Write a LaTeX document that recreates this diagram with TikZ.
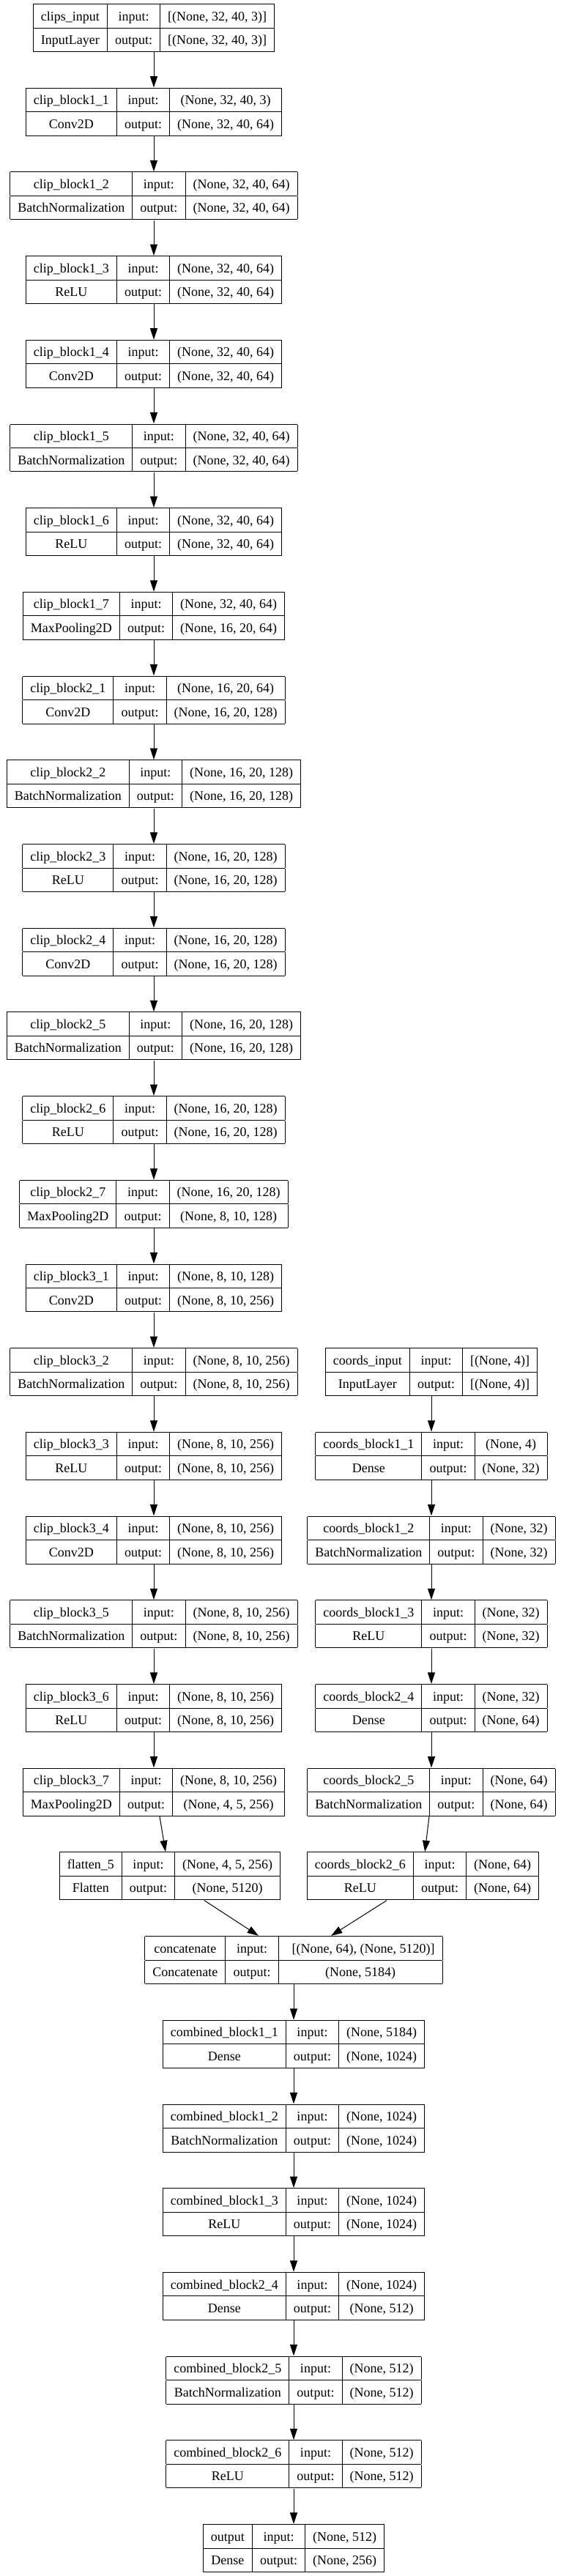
\documentclass[tikz,border=0pt]{standalone}
\usepackage{fontspec}
\setmainfont{Liberation Serif}
\usepackage{tikz}
\usetikzlibrary{arrows.meta}
\renewcommand{\arraystretch}{1.457}
\setlength{\arrayrulewidth}{0.75pt}
\setlength{\tabcolsep}{7.9pt}
\newcommand{\layerbox}[4]{%
  \begin{tabular}{|c|c|c|}\hline
    #1 & input: & #3\\\hline
    #2 & output: & #4\\\hline
  \end{tabular}}

\begin{document}
\begin{tikzpicture}[
    x=0.75pt, y=-86.025pt,
    layer/.style={inner sep=0pt, font=\fontsize{13.5}{16.2}\selectfont},
    arr/.style={-{Triangle[length=11.5pt,width=7.5pt]}, line width=0.75pt}
]
    \useasboundingbox (0,-0.3313) rectangle (766,30.3313);

    % Clip branch
    \node[layer] (cin)  at (210,0)  {\layerbox{clips\_input}{InputLayer}{[(None, 32, 40, 3)]}{[(None, 32, 40, 3)]}};
    \node[layer] (cb11) at (210,1)  {\layerbox{clip\_block1\_1}{Conv2D}{(None, 32, 40, 3)}{(None, 32, 40, 64)}};
    \node[layer] (cb12) at (210,2)  {\layerbox{clip\_block1\_2}{BatchNormalization}{(None, 32, 40, 64)}{(None, 32, 40, 64)}};
    \node[layer] (cb13) at (210,3)  {\layerbox{clip\_block1\_3}{ReLU}{(None, 32, 40, 64)}{(None, 32, 40, 64)}};
    \node[layer] (cb14) at (210,4)  {\layerbox{clip\_block1\_4}{Conv2D}{(None, 32, 40, 64)}{(None, 32, 40, 64)}};
    \node[layer] (cb15) at (210,5)  {\layerbox{clip\_block1\_5}{BatchNormalization}{(None, 32, 40, 64)}{(None, 32, 40, 64)}};
    \node[layer] (cb16) at (210,6)  {\layerbox{clip\_block1\_6}{ReLU}{(None, 32, 40, 64)}{(None, 32, 40, 64)}};
    \node[layer] (cb17) at (210,7)  {\layerbox{clip\_block1\_7}{MaxPooling2D}{(None, 32, 40, 64)}{(None, 16, 20, 64)}};
    \node[layer] (cb21) at (210,8)  {\layerbox{clip\_block2\_1}{Conv2D}{(None, 16, 20, 64)}{(None, 16, 20, 128)}};
    \node[layer] (cb22) at (210,9)  {\layerbox{clip\_block2\_2}{BatchNormalization}{(None, 16, 20, 128)}{(None, 16, 20, 128)}};
    \node[layer] (cb23) at (210,10) {\layerbox{clip\_block2\_3}{ReLU}{(None, 16, 20, 128)}{(None, 16, 20, 128)}};
    \node[layer] (cb24) at (210,11) {\layerbox{clip\_block2\_4}{Conv2D}{(None, 16, 20, 128)}{(None, 16, 20, 128)}};
    \node[layer] (cb25) at (210,12) {\layerbox{clip\_block2\_5}{BatchNormalization}{(None, 16, 20, 128)}{(None, 16, 20, 128)}};
    \node[layer] (cb26) at (210,13) {\layerbox{clip\_block2\_6}{ReLU}{(None, 16, 20, 128)}{(None, 16, 20, 128)}};
    \node[layer] (cb27) at (210,14) {\layerbox{clip\_block2\_7}{MaxPooling2D}{(None, 16, 20, 128)}{(None, 8, 10, 128)}};
    \node[layer] (cb31) at (210,15) {\layerbox{clip\_block3\_1}{Conv2D}{(None, 8, 10, 128)}{(None, 8, 10, 256)}};
    \node[layer] (cb32) at (210,16) {\layerbox{clip\_block3\_2}{BatchNormalization}{(None, 8, 10, 256)}{(None, 8, 10, 256)}};
    \node[layer] (cb33) at (210,17) {\layerbox{clip\_block3\_3}{ReLU}{(None, 8, 10, 256)}{(None, 8, 10, 256)}};
    \node[layer] (cb34) at (210,18) {\layerbox{clip\_block3\_4}{Conv2D}{(None, 8, 10, 256)}{(None, 8, 10, 256)}};
    \node[layer] (cb35) at (210,19) {\layerbox{clip\_block3\_5}{BatchNormalization}{(None, 8, 10, 256)}{(None, 8, 10, 256)}};
    \node[layer] (cb36) at (210,20) {\layerbox{clip\_block3\_6}{ReLU}{(None, 8, 10, 256)}{(None, 8, 10, 256)}};
    \node[layer] (cb37) at (210,21) {\layerbox{clip\_block3\_7}{MaxPooling2D}{(None, 8, 10, 256)}{(None, 4, 5, 256)}};
    \node[layer] (flat) at (232,22) {\layerbox{flatten\_5}{Flatten}{(None, 4, 5, 256)}{(None, 5120)}};

    % Coords branch
    \node[layer] (kin)  at (589,16) {\layerbox{coords\_input}{InputLayer}{[(None, 4)]}{[(None, 4)]}};
    \node[layer] (kb11) at (589,17) {\layerbox{coords\_block1\_1}{Dense}{(None, 4)}{(None, 32)}};
    \node[layer] (kb12) at (589,18) {\layerbox{coords\_block1\_2}{BatchNormalization}{(None, 32)}{(None, 32)}};
    \node[layer] (kb13) at (589,19) {\layerbox{coords\_block1\_3}{ReLU}{(None, 32)}{(None, 32)}};
    \node[layer] (kb24) at (589,20) {\layerbox{coords\_block2\_4}{Dense}{(None, 32)}{(None, 64)}};
    \node[layer] (kb25) at (589,21) {\layerbox{coords\_block2\_5}{BatchNormalization}{(None, 64)}{(None, 64)}};
    \node[layer] (kb26) at (577.5,22) {\layerbox{coords\_block2\_6}{ReLU}{(None, 64)}{(None, 64)}};

    % Combined part
    \node[layer] (cat)  at (401,23) {\layerbox{concatenate}{Concatenate}{\hspace{6pt}[(None, 64), (None, 5120)]\hspace{6pt}}{(None, 5184)}};
    \node[layer] (mb11) at (401,24) {\layerbox{combined\_block1\_1}{Dense}{(None, 5184)}{(None, 1024)}};
    \node[layer] (mb12) at (401,25) {\layerbox{combined\_block1\_2}{BatchNormalization}{(None, 1024)}{(None, 1024)}};
    \node[layer] (mb13) at (401,26) {\layerbox{combined\_block1\_3}{ReLU}{(None, 1024)}{(None, 1024)}};
    \node[layer] (mb24) at (401,27) {\layerbox{combined\_block2\_4}{Dense}{(None, 1024)}{(None, 512)}};
    \node[layer] (mb25) at (401,28) {\layerbox{combined\_block2\_5}{BatchNormalization}{(None, 512)}{(None, 512)}};
    \node[layer] (mb26) at (401,29) {\layerbox{combined\_block2\_6}{ReLU}{(None, 512)}{(None, 512)}};
    \node[layer] (out)  at (401,30) {\layerbox{output}{Dense}{(None, 512)}{(None, 256)}};

    % Edges
    \foreach \a/\b in {cin/cb11, cb11/cb12, cb12/cb13, cb13/cb14, cb14/cb15, cb15/cb16, cb16/cb17,
                       cb17/cb21, cb21/cb22, cb22/cb23, cb23/cb24, cb24/cb25, cb25/cb26, cb26/cb27,
                       cb27/cb31, cb31/cb32, cb32/cb33, cb33/cb34, cb34/cb35, cb35/cb36, cb36/cb37,
                       kin/kb11, kb11/kb12, kb12/kb13, kb13/kb24, kb24/kb25,
                       cat/mb11, mb11/mb12, mb12/mb13, mb13/mb24, mb24/mb25, mb25/mb26, mb26/out}
        \draw[arr] (\a) -- (\b);
    \draw[arr] ([xshift=6pt]cb37.south) -- ([xshift=-4.5pt]flat.north);
    \draw[arr] ([xshift=-2.25pt]kb25.south) -- ([xshift=2pt]kb26.north);
    \draw[arr] ([xshift=35.25pt]flat.south) -- ([xshift=-36pt]cat.north);
    \draw[arr] ([xshift=-37.1pt]kb26.south) -- ([xshift=38.25pt]cat.north);
\end{tikzpicture}
\end{document}
